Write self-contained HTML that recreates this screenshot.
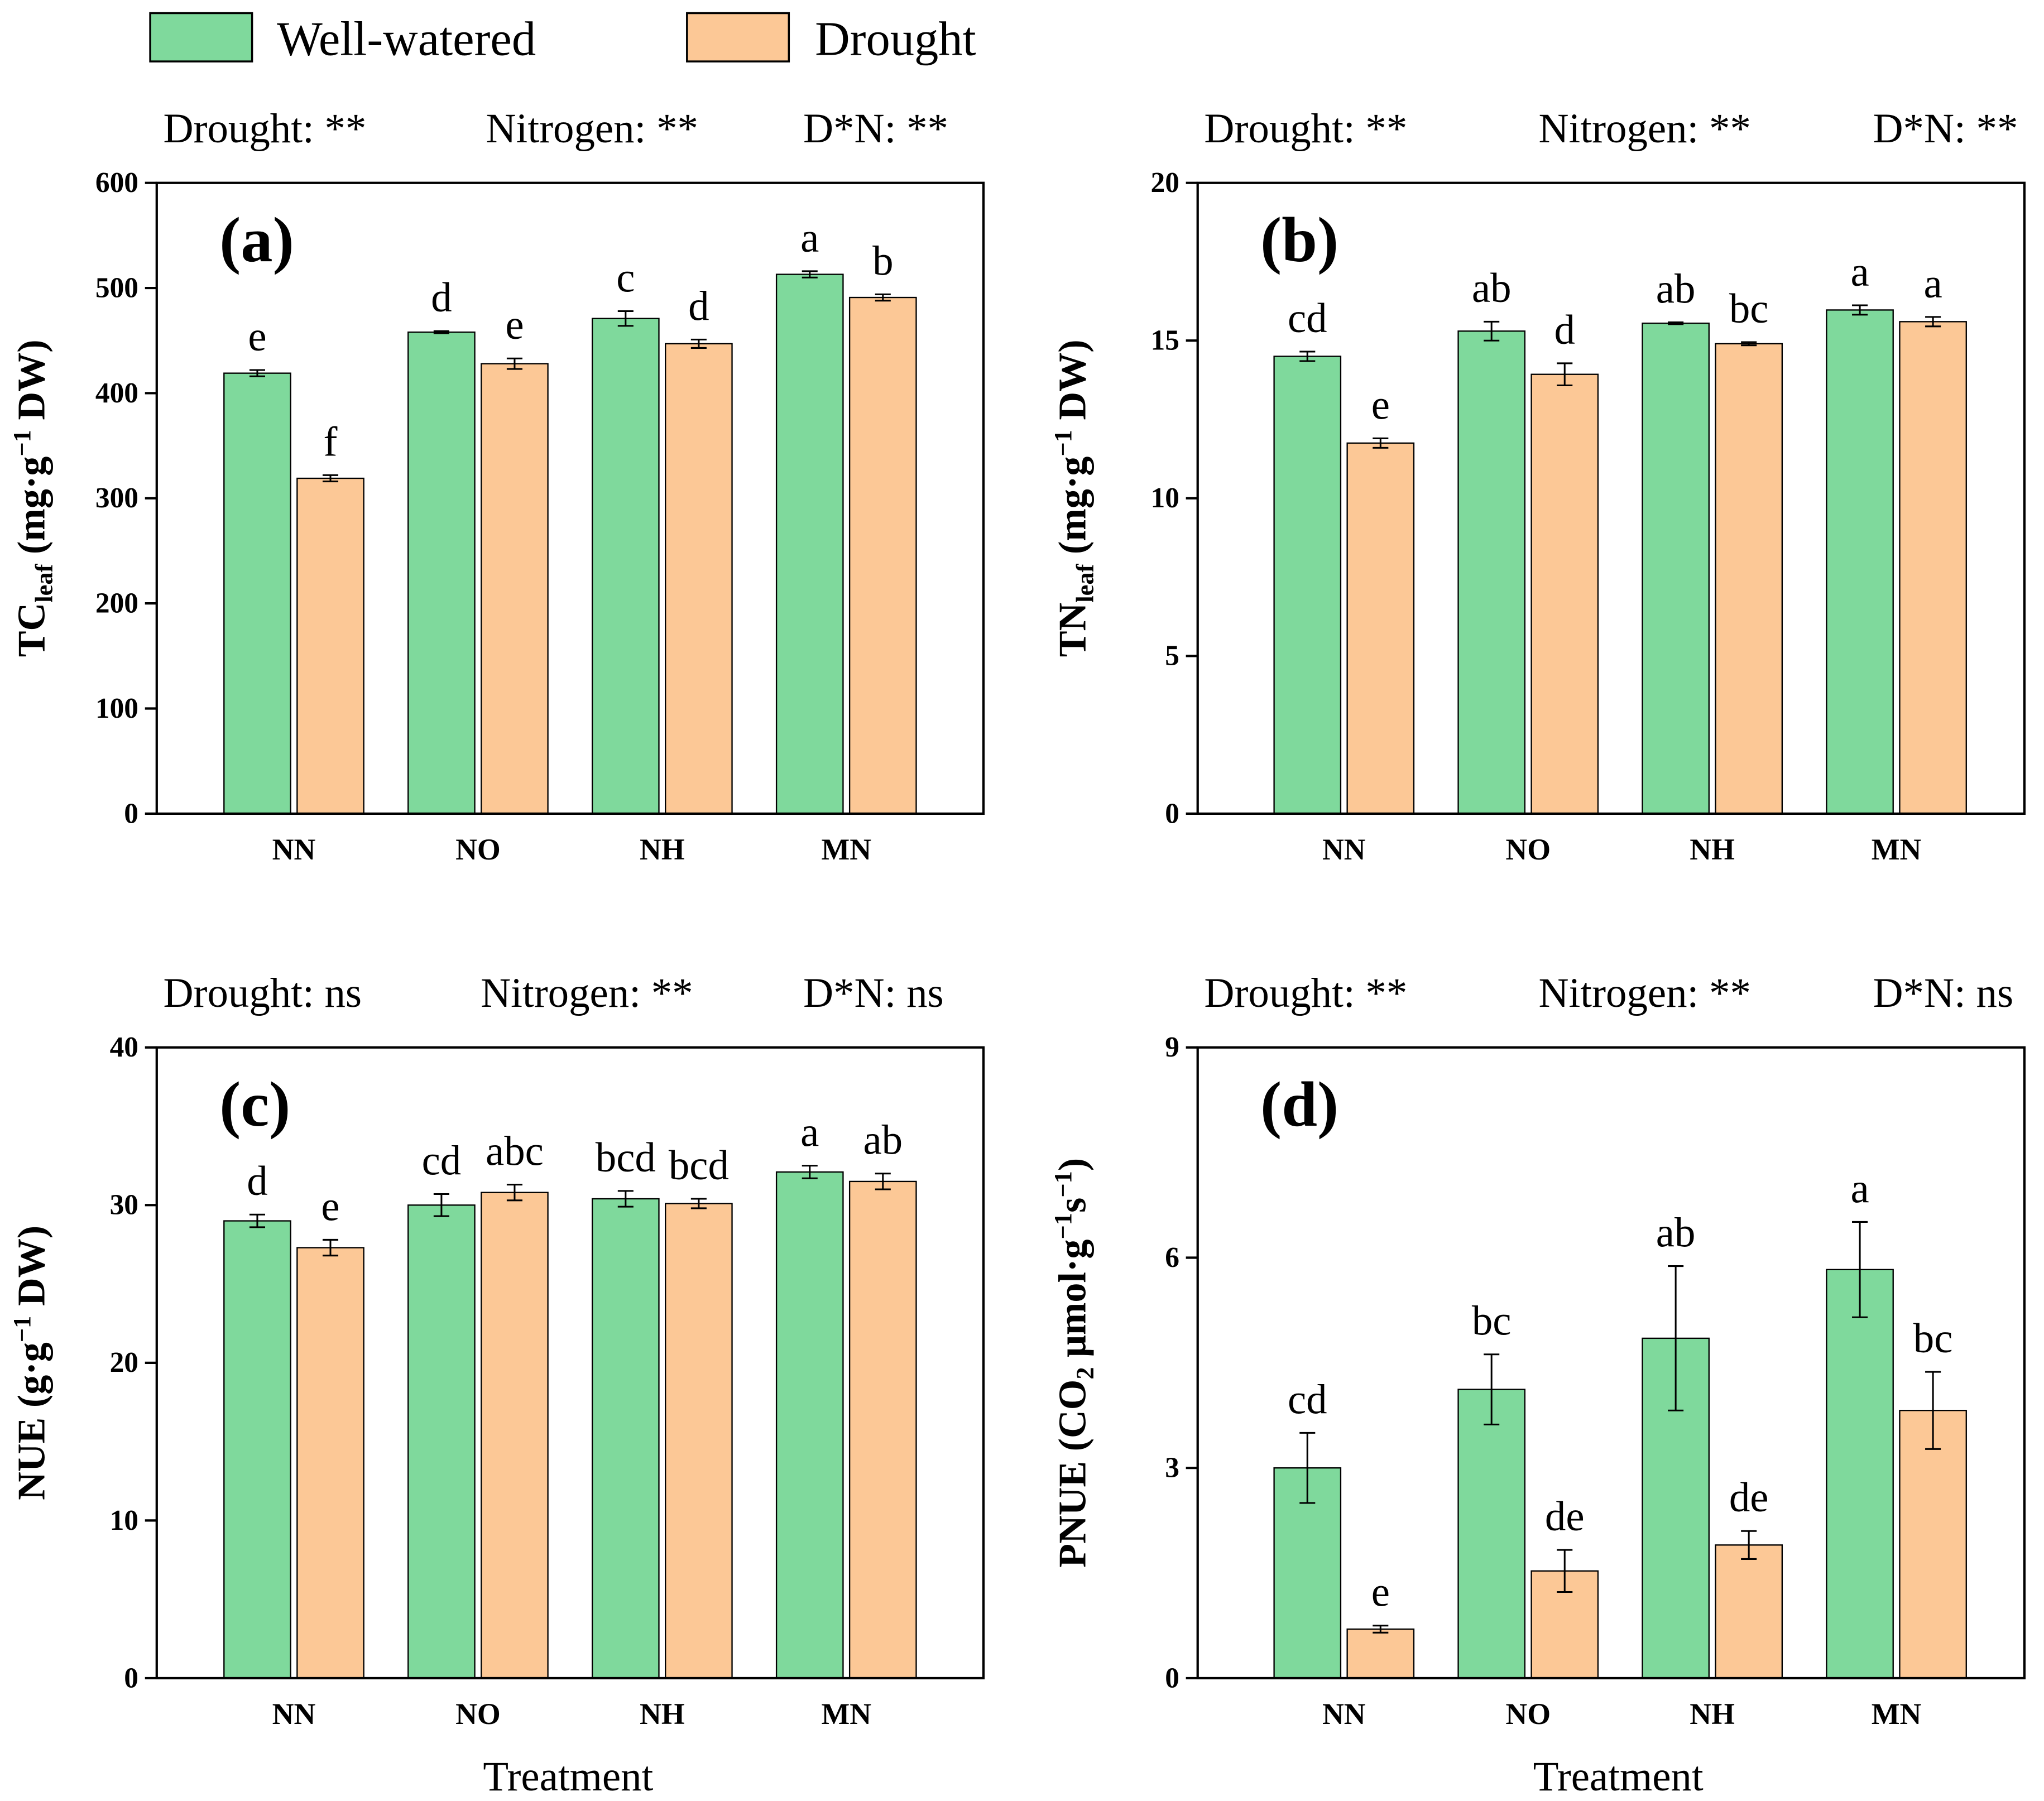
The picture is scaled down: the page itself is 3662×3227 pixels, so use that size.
<!DOCTYPE html>
<html><head><meta charset="utf-8">
<style>
html,body{margin:0;padding:0;background:#fff;}
svg{display:block;}
</style></head>
<body>
<svg id="chart" width="3662" height="3227" viewBox="0 0 1565 1379" xmlns="http://www.w3.org/2000/svg" font-family="'Times New Roman','Liberation Serif',Times,'DejaVu Serif',serif">
<g>
  <rect x="115" y="10" width="78" height="37" fill="#7fd99c" stroke="#000" stroke-width="1.5"/>
  <text x="212" y="42" font-size="37" font-family="'Times New Roman','Liberation Serif',Times,'DejaVu Serif',serif">Well-watered</text>
  <rect x="526" y="10" width="78" height="37" fill="#fcc896" stroke="#000" stroke-width="1.5"/>
  <text x="624" y="42" font-size="37" font-family="'Times New Roman','Liberation Serif',Times,'DejaVu Serif',serif">Drought</text>
</g>
</svg>
<script>
const categories = ["NN","NO","NH","MN"];
const aWW = [419,458,471,513], aWWErr=[3,1,7,3], aD=[319,428,447,491], aDErr=[3,5,4,3];
const aWWLet=["e","d","c","a"], aDLet=["f","e","d","b"];
const aTicks=[0,100,200,300,400,500,600];
const bWW=[14.5,15.3,15.55,15.97], bWWErr=[0.15,0.3,0.03,0.15], bD=[11.75,13.93,14.9,15.6], bDErr=[0.15,0.35,0.05,0.15];
const bWWLet=["cd","ab","ab","a"], bDLet=["e","d","bc","a"];
const bTicks=[0,5,10,15,20];
const cWW=[29,30,30.4,32.1], cWWErr=[0.4,0.7,0.5,0.4], cD=[27.3,30.8,30.1,31.5], cDErr=[0.5,0.5,0.3,0.5];
const cWWLet=["d","cd","bcd","a"], cDLet=["e","abc","bcd","ab"];
const cTicks=[0,10,20,30,40];
const dWW=[3.0,4.12,4.85,5.83], dWWErr=[0.5,0.5,1.03,0.68], dD=[0.7,1.53,1.9,3.82], dDErr=[0.05,0.3,0.2,0.55];
const dWWLet=["cd","bc","ab","a"], dDLet=["e","de","de","bc"];
const dTicks=[0,3,6,9];

const NS="http://www.w3.org/2000/svg";
const FF="'Times New Roman','Liberation Serif',Times,'DejaVu Serif',serif";
const svg=document.getElementById("chart");
function mk(tag,attrs,parent){const e=document.createElementNS(NS,tag);for(const k in attrs)e.setAttribute(k,attrs[k]);if(tag==="text")e.setAttribute("font-family",FF);(parent||svg).appendChild(e);return e;}

function panel(p){
  const g=mk("g",{});
  
  
  const x0=p.x0,x1=p.x0+633,y0=p.y0,y1=p.y0+483;
  const ymax=p.ticks[p.ticks.length-1];
  const Y=v=>y1-(v/ymax)*(y1-y0);
  const GX=i=>x0+105+p.shift+i*141;
  p.stats.forEach((s,i)=>{const t=mk("text",{x:x0+p.sx[i],y:y0-31,"font-size":32},g);t.textContent=s;
    
    });
  const series=[[p.ww,p.wwe,p.wwl,"#7fd99c",-28],[p.d,p.de,p.dl,"#fcc896",28]];
  series.forEach(([vals,errs,lets,col,off],si)=>{
    vals.forEach((v,i)=>{
      const cx=GX(i)+off;
      const r=mk("rect",{x:cx-25.5,y:Y(v),width:51,height:y1-Y(v),fill:col,stroke:"#000","stroke-width":1},g);
      
      
      const top=Y(v+errs[i]),bot=Y(v-errs[i]);
      const eb=mk("path",{d:`M${cx},${top}V${bot}M${cx-6},${top}H${cx+6}M${cx-6},${bot}H${cx+6}`,stroke:"#000","stroke-width":1.3,fill:"none"},g);
      
      
      const t=mk("text",{x:cx,y:top-15,"font-size":32,"text-anchor":"middle"},g);t.textContent=lets[i];
      
      
    });
  });
  const f=mk("rect",{x:x0,y:y0,width:633,height:483,fill:"none",stroke:"#000","stroke-width":1.8},g);
  
  
  p.ticks.forEach(tv=>{
    mk("line",{x1:x0-9,x2:x0,y1:Y(tv),y2:Y(tv),stroke:"#000","stroke-width":1.8},g);
    const t=mk("text",{x:x0-14,y:Y(tv)+7,"font-size":22,"font-weight":"bold","text-anchor":"end"},g);t.textContent=tv;
    
    
  });
  categories.forEach((c,i)=>{const t=mk("text",{x:GX(i),y:y1+35,"font-size":23,"font-weight":"bold","text-anchor":"middle"},g);t.textContent=c;
    
    });
  const pl=mk("text",{x:x0+48,y:y0+60,"font-size":49,"font-weight":"bold"},g);pl.textContent="("+p.id+")";
  
  
  const yt=mk("text",{transform:`translate(${x0-86},${(y0+y1)/2}) rotate(-90)`,"font-size":30,"font-weight":"bold","text-anchor":"middle"},g);
  yt.innerHTML=p.title;
  
  
  if(p.xt){const t=mk("text",{x:x0+315+p.shift,y:1371,"font-size":32,"text-anchor":"middle"},g);t.textContent="Treatment";
    
    }
}
const sub='font-size="19"';
panel({id:"a",x0:120,y0:140,shift:0,sx:[5,252,495],ticks:aTicks,ww:aWW,wwe:aWWErr,d:aD,de:aDErr,wwl:aWWLet,dl:aDLet,
  stats:["Drought: **","Nitrogen: **","D*N: **"],title:`TC<tspan ${sub} dy="6">leaf</tspan><tspan dy="-6"> (mg·g</tspan><tspan ${sub} dy="-11">−1</tspan><tspan dy="11"> DW)</tspan>`});
panel({id:"b",x0:917,y0:140,shift:7,sx:[5,261,517],ticks:bTicks,ww:bWW,wwe:bWWErr,d:bD,de:bDErr,wwl:bWWLet,dl:bDLet,
  stats:["Drought: **","Nitrogen: **","D*N: **"],title:`TN<tspan ${sub} dy="6">leaf</tspan><tspan dy="-6"> (mg·g</tspan><tspan ${sub} dy="-11">−1</tspan><tspan dy="11"> DW)</tspan>`});
panel({id:"c",x0:120,y0:802,shift:0,sx:[5,248,495],ticks:cTicks,ww:cWW,wwe:cWWErr,d:cD,de:cDErr,wwl:cWWLet,dl:cDLet,xt:1,
  stats:["Drought: ns","Nitrogen: **","D*N: ns"],title:`NUE (g·g<tspan ${sub} dy="-11">−1</tspan><tspan dy="11"> DW)</tspan>`});
panel({id:"d",x0:917,y0:802,shift:7,sx:[5,261,517],ticks:dTicks,ww:dWW,wwe:dWWErr,d:dD,de:dDErr,wwl:dWWLet,dl:dDLet,xt:1,
  stats:["Drought: **","Nitrogen: **","D*N: ns"],title:`PNUE (CO<tspan ${sub} dy="6">2</tspan><tspan dy="-6"> μmol·g</tspan><tspan ${sub} dy="-11">−1</tspan><tspan dy="11">s</tspan><tspan ${sub} dy="-11">−1</tspan><tspan dy="11">)</tspan>`});
</script>
</body></html>
